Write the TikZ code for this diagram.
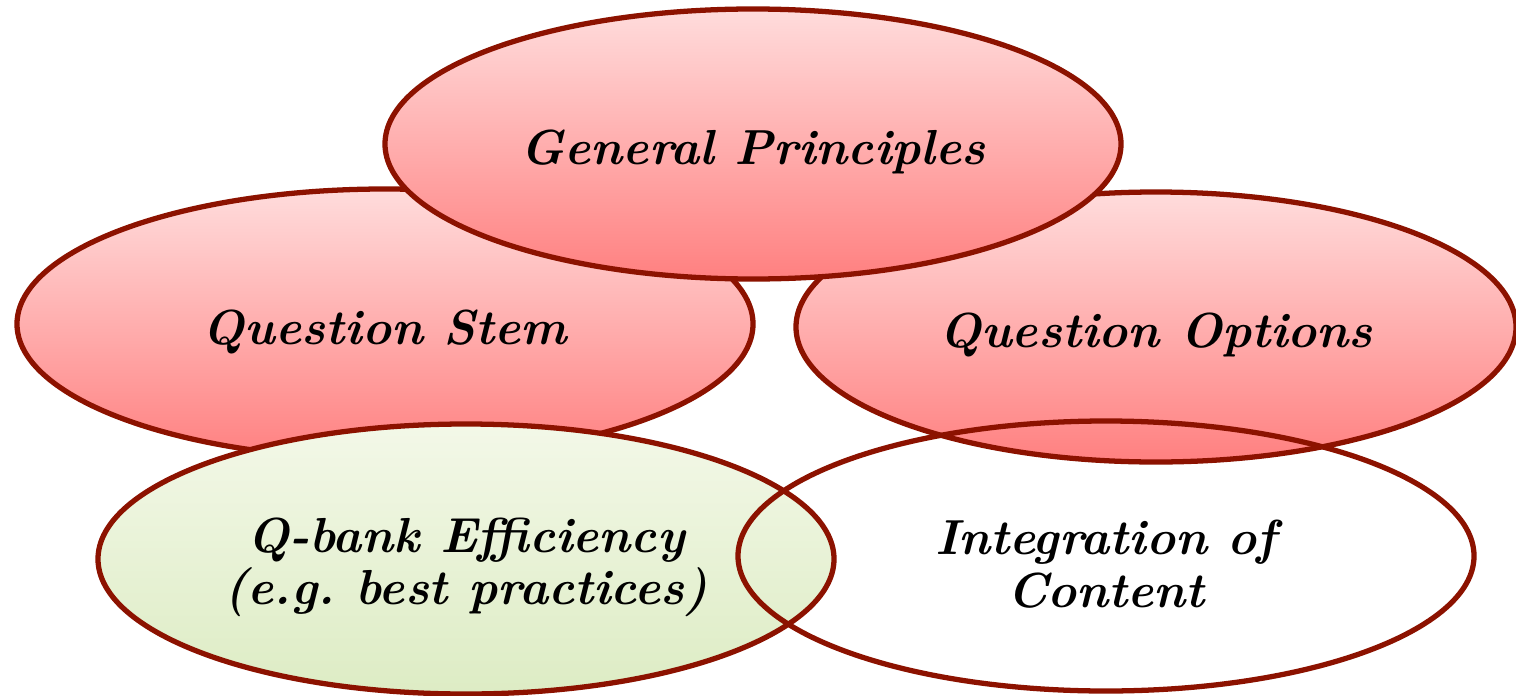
\documentclass[tikz,border=0pt]{standalone}
\usepackage{tikz}
\usetikzlibrary{shapes.geometric}
\definecolor{rimred}{RGB}{140,18,0}
\definecolor{pinktop}{RGB}{255,220,220}
\definecolor{pinkbot}{RGB}{255,128,128}
\definecolor{greentop}{RGB}{243,248,232}
\definecolor{greenbot}{RGB}{221,236,196}
\newcommand{\upstrut}{\rule{0pt}{5.1mm}}
\tikzset{
  blob/.style={ellipse,draw=rimred,line width=1.5pt,inner sep=0pt,
    minimum width=7.36cm,minimum height=2.70cm,align=center,
    font=\fontsize{14}{15}\selectfont\bfseries\itshape,
    execute at begin node={\rule{0pt}{5mm}}},
  pinkblob/.style={blob,top color=pinktop,bottom color=pinkbot},
  greenblob/.style={blob,top color=greentop,bottom color=greenbot},
  openblob/.style={blob}
}
\begin{document}
\begin{tikzpicture}[line cap=round,line join=round,x=1.0cm,y=1.0cm]
      \useasboundingbox (0,0) rectangle (15.16,6.95);
      \node[pinkblob] (stem) at (3.85,3.71) {Question Stem};
      \node[pinkblob,minimum width=7.2cm] (options) at (11.56,3.68) {Question Options};
      \node[pinkblob] (general) at (7.53,5.51) {General Principles};
      \node[greenblob] (qbank) at (4.66,1.36) {\upstrut Q-bank Efficiency\\(e.g.\ best practices)};
      \node[openblob] (integration) at (11.06,1.39) {\upstrut Integration of\\Content};
    \end{tikzpicture}
\end{document}
